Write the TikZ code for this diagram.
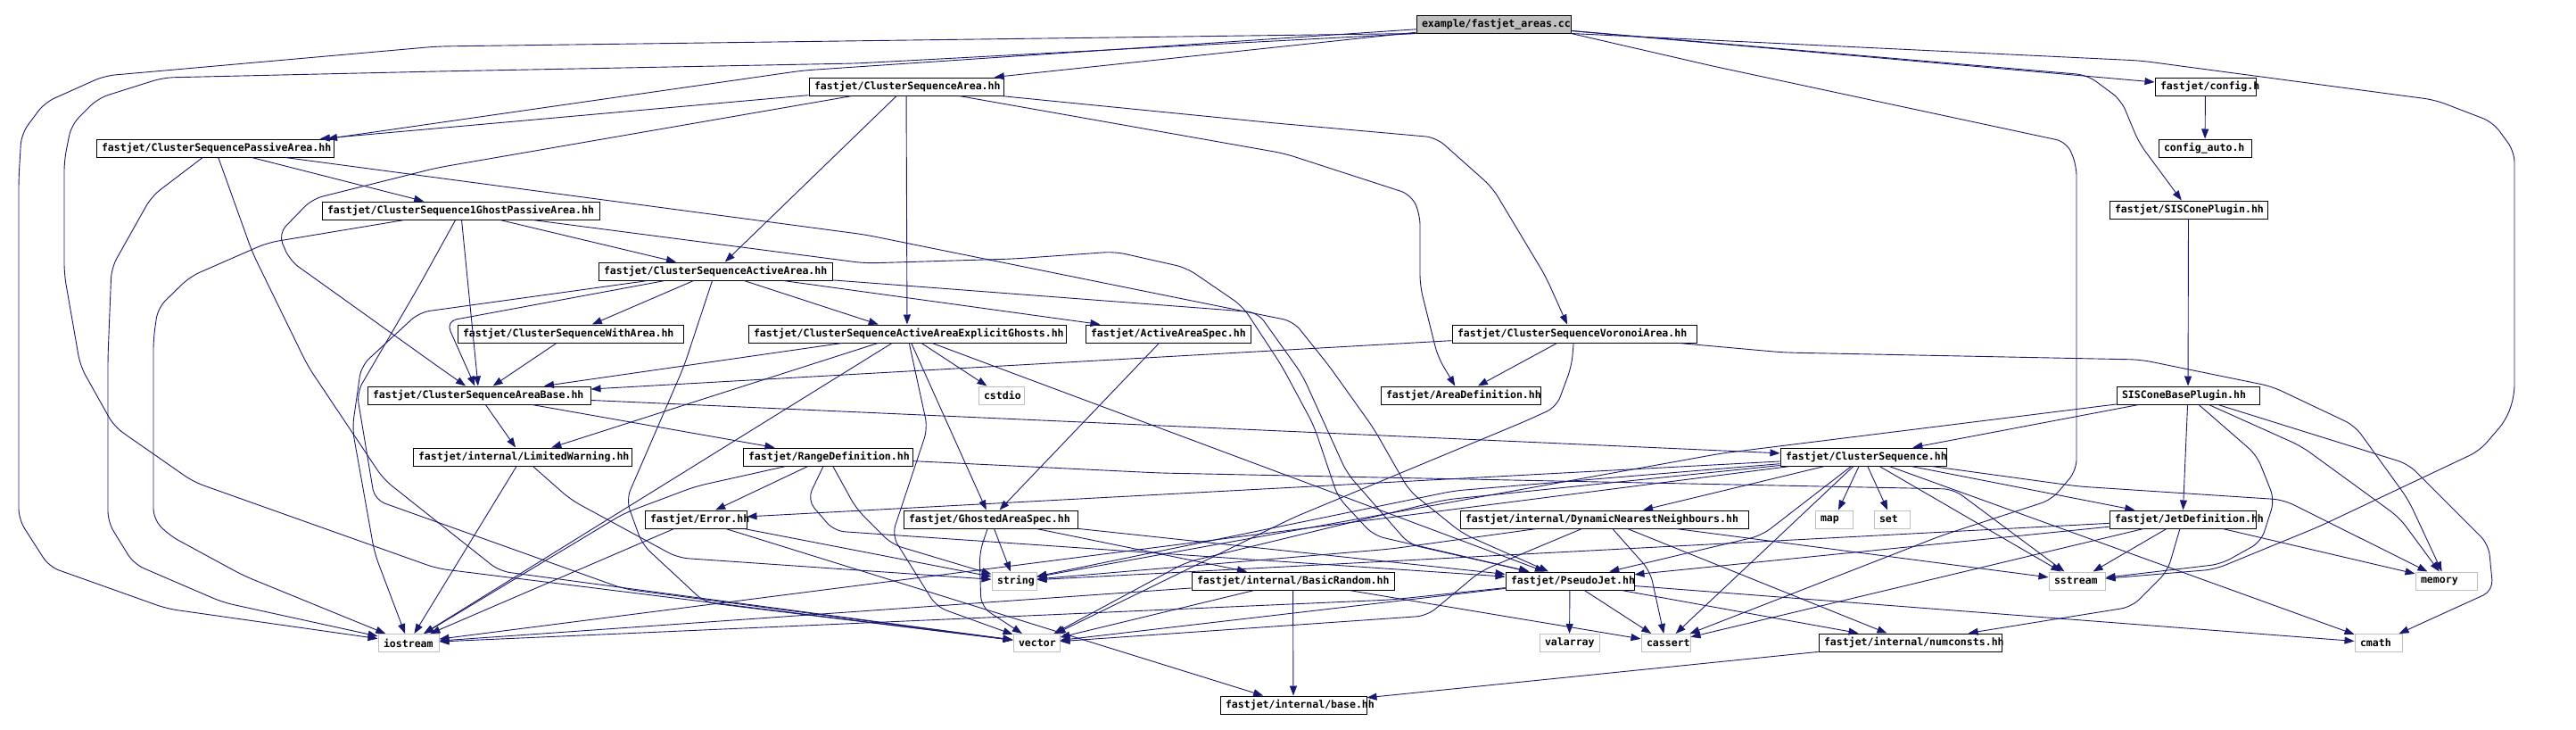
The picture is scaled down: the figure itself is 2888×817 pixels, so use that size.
\documentclass[tikz,border=0pt]{standalone}
\usepackage{fontspec}
\setmonofont{DejaVu Sans Mono}
\usetikzlibrary{arrows.meta}
\definecolor{edgec}{HTML}{191970}
\definecolor{graybox}{HTML}{BFBFBF}
\newcommand\lbl[2]{\makebox[#1pt][l]{\hspace{6pt}#2}}
\tikzset{
 n/.style={draw=black, line width=1pt, minimum height=20pt, inner sep=0pt, anchor=center,
   font=\ttfamily\bfseries\fontsize{11.55pt}{13pt}\selectfont},
 g/.style={n, draw=graybox},
 e/.style={draw=edgec, line width=0.9pt, rounded corners=12pt, -{Triangle[length=11pt,width=8pt]}}
}
\begin{document}
\begin{tikzpicture}[x=1pt,y=-1pt]
\useasboundingbox (0,0) rectangle (2888,817);
% nodes
\node[n,fill=graybox] (root) at (1674.5,27) {\lbl{173}{example/fastjet\_areas.cc}};
\node[n] (CSA) at (1016,97) {\lbl{218}{fastjet/ClusterSequenceArea.hh}};
\node[n] (cfg) at (2472.5,97) {\lbl{113}{fastjet/config.h}};
\node[n] (CSPA) at (241,166) {\lbl{266}{fastjet/ClusterSequencePassiveArea.hh}};
\node[n] (cfga) at (2472,166) {\lbl{104}{config\_auto.h}};
\node[n] (CS1G) at (516.5,236) {\lbl{311}{fastjet/ClusterSequence1GhostPassiveArea.hh}};
\node[n] (SISP) at (2453.5,235) {\lbl{177}{fastjet/SISConePlugin.hh}};
\node[n] (CSAA) at (802,304) {\lbl{262}{fastjet/ClusterSequenceActiveArea.hh}};
\node[n] (CSWA) at (639.5,374) {\lbl{253}{fastjet/ClusterSequenceWithArea.hh}};
\node[n] (CSAAEG) at (1017,374) {\lbl{356}{fastjet/ClusterSequenceActiveAreaExplicitGhosts.hh}};
\node[n] (AAS) at (1309.5,374) {\lbl{185}{fastjet/ActiveAreaSpec.hh}};
\node[n] (CSVA) at (1765,374) {\lbl{274}{fastjet/ClusterSequenceVoronoiArea.hh}};
\node[n] (CSAB) at (537,443) {\lbl{250}{fastjet/ClusterSequenceAreaBase.hh}};
\node[g] (cstdio) at (1122.5,443) {\lbl{51}{cstdio}};
\node[n] (AD) at (1637.5,443) {\lbl{179}{fastjet/AreaDefinition.hh}};
\node[n] (SISB) at (2453,443) {\lbl{160}{SISConeBasePlugin.hh}};
\node[n] (LW) at (585.5,512) {\lbl{245}{fastjet/internal/LimitedWarning.hh}};
\node[n] (RD) at (928,512) {\lbl{190}{fastjet/RangeDefinition.hh}};
\node[n] (CS) at (2089,512) {\lbl{186}{fastjet/ClusterSequence.hh}};
\node[n] (Err) at (780,582) {\lbl{114}{fastjet/Error.hh}};
\node[n] (GAS) at (1110.5,582) {\lbl{195}{fastjet/GhostedAreaSpec.hh}};
\node[n] (DNN) at (1798.5,582) {\lbl{323}{fastjet/internal/DynamicNearestNeighbours.hh}};
\node[g] (map) at (2056,582) {\lbl{42}{map}};
\node[g] (set) at (2121,582) {\lbl{40}{set}};
\node[n] (JD) at (2447,582) {\lbl{164}{fastjet/JetDefinition.hh}};
\node[g] (string) at (1137,651) {\lbl{50}{string}};
\node[n] (BR) at (1449.5,651) {\lbl{227}{fastjet/internal/BasicRandom.hh}};
\node[n] (PJ) at (1760,651) {\lbl{144}{fastjet/PseudoJet.hh}};
\node[g] (sstream) at (2328.5,651) {\lbl{63}{sstream}};
\node[g] (memory) at (2742.5,651) {\lbl{69}{memory}};
\node[g] (iostream) at (458,720.5) {\lbl{68}{iostream}};
\node[g] (vector) at (1162,720.5) {\lbl{52}{vector}};
\node[g] (valarray) at (1759.5,720.5) {\lbl{67}{valarray}};
\node[g] (cassert) at (1867.5,720.5) {\lbl{55}{cassert}};
\node[n] (numconsts) at (2141.5,720) {\lbl{205}{fastjet/internal/numconsts.hh}};
\node[g] (cmath) at (2666.5,720.5) {\lbl{53}{cmath}};
\node[n] (base) at (1450,790) {\lbl{164}{fastjet/internal/base.hh}};
% root edges
\draw[e] (root) -- (CSA);
\draw[e] (root) -- (900,79) -- ([xshift=126pt]CSPA.north);
\draw[e] (root) -- (cfg);
\draw[e] (root) -- (2340,84) -- (2378,112) -- (2398,160) -- (SISP);
\draw[e] (root.south west) -- (490,52) -- (117,85) -- (50,115) -- (24,150) -- (21,200) -- (21,582) -- (55,635) -- (187,682) -- (iostream);
\draw[e] (root.south west) -- (960,71) -- (490,80) -- (183,87) -- (110,110) -- (80,140) -- (72,180) -- (72,307) -- (90,410) -- (128,478) -- (217,540) -- (490,637) -- (vector);
\draw[e] (root.south east) -- (2400,68) -- (2730,112) -- (2795,137) -- (2819,170) -- (2819,443) -- (2810,470) -- (2780,505) -- (2600,590) -- (2483,638) -- (sstream);
\draw[e] (root.south east) -- (1920,74) -- (2317,159) -- (2328,185) -- (2328,527) -- (2300,560) -- (2177,600) -- (cassert);
\draw[e] (cfg) -- (cfga);
% ClusterSequenceArea
\draw[e] (CSA) -- (CSPA);
\draw[e] (CSA) -- (490,188) -- (350,223) -- (312,262) -- (325,292) -- (490,410) -- (CSAB);
\draw[e] (CSA) -- (CSAA);
\draw[e] (CSA) -- (CSAAEG);
\draw[e] (CSA) -- (1430,138) -- (1610,154) -- (1673,210) -- (1733,310) -- ([xshift=-8pt]CSVA.north);
\draw[e] (CSA) -- (1440,172) -- (1582,218) -- (1592,240) -- (1592,320) -- (1612,400) -- (AD);
% PassiveArea
\draw[e] (CSPA) -- (CS1G);
\draw[e] (CSPA) -- (970,263) -- (1450,360) -- (1490,410) -- (1540,480) -- (1580,550) -- (1640,598) -- (PJ);
\draw[e] (CSPA) -- (170,220) -- (125,300) -- (121,400) -- (121,585) -- (150,632) -- (250,675) -- (iostream);
\draw[e] (CSPA) -- (283,283) -- (345,410) -- (430,537) -- (560,640) -- (vector);
% 1GhostPassiveArea
\draw[e] (CS1G) -- (CSAB);
\draw[e] (CS1G) -- (CSAA);
\draw[e] (CS1G) -- (970,295) -- (1137,290) -- (1250,282) -- (1330,300) -- (1393,343) -- (1437,410) -- (1473,477) -- (1500,557) -- (1540,600) -- (PJ);
\draw[e] (CS1G) -- (300,272) -- (213,310) -- (177,345) -- (172,380) -- (172,582) -- (190,600) -- (273,645) -- (iostream);
\draw[e] (CS1G) -- (470,320) -- (400,440) -- (420,560) -- (700,660) -- (vector);
% ActiveArea
\draw[e] (CSAA) -- (CSWA);
\draw[e] (CSAA) -- (CSAAEG);
\draw[e] (CSAA) -- (AAS);
\draw[e] (CSAA) -- (500,360) -- (CSAB);
\draw[e] (CSAA) -- (1410,350) -- (1460,420) -- (1510,530) -- (1580,610) -- (PJ);
\draw[e] (CSAA) -- (470,350) -- (405,410) -- (395,480) -- (420,620) -- (iostream);
\draw[e] (CSAA) -- (767,410) -- (702,560) -- (720,610) -- (790,675) -- (970,697) -- (vector);
\draw[e] (CSWA) -- (CSAB);
% ExplicitGhosts
\draw[e] (CSAAEG) -- (CSAB);
\draw[e] (CSAAEG) -- (cstdio);
\draw[e] (CSAAEG) -- (GAS);
\draw[e] (CSAAEG) -- (LW);
\draw[e] (CSAAEG) -- (PJ);
\draw[e] (CSAAEG) -- (iostream);
\draw[e] (CSAAEG) -- (1040,480) -- (1000,600) -- (1050,680) -- (vector);
\draw[e] (AAS) -- (GAS);
% VoronoiArea
\draw[e] (CSVA) -- (CSAB);
\draw[e] (CSVA) -- (AD);
\draw[e] (CSVA) -- (1762,410) -- (1745,456) -- (1710,472) -- (1450,580) -- (vector);
\draw[e] (CSVA) -- (2000,395) -- (2400,403) -- (2547,433) -- (2640,477) -- (2700,560) -- (memory);
% AreaBase
\draw[e] (CSAB) -- (LW);
\draw[e] (CSAB) -- (RD);
\draw[e] (CSAB) -- (CS);
% LimitedWarning
\draw[e] (LW) -- (iostream);
\draw[e] (LW) -- (640,560) -- (760,625) -- (string);
% RangeDefinition
\draw[e] (RD) -- (Err);
\draw[e] (RD) -- (780,545) -- (700,575) -- (iostream);
\draw[e] (RD) -- (905,560) -- (935,595) -- (1300,620) -- (PJ);
\draw[e] (RD) -- (960,570) -- (1000,610) -- (string);
\draw[e] (RD) -- (1300,530) -- (2190,548) -- (sstream);
% Error
\draw[e] (Err) -- (string);
\draw[e] (Err) -- (base);
\draw[e] (Err) -- (iostream);
% GhostedAreaSpec
\draw[e] (GAS) -- (string);
\draw[e] (GAS) -- (1098,620) -- (1100,680) -- (vector);
\draw[e] (GAS) -- (BR);
\draw[e] (GAS) -- (PJ);
% BasicRandom
\draw[e] (BR) -- (base);
\draw[e] (BR) -- (iostream);
\draw[e] (BR) -- (vector);
\draw[e] (BR) -- (cassert);
% PseudoJet
\draw[e] (PJ) -- (valarray);
\draw[e] (PJ) -- (cassert);
\draw[e] (PJ) -- (vector);
\draw[e] (PJ) -- (1560,672) -- (iostream);
\draw[e] (PJ) -- (numconsts);
\draw[e] (PJ) -- (cmath);
% ClusterSequence
\draw[e] (CS) -- (map);
\draw[e] (CS) -- (set);
\draw[e] (CS) -- (DNN);
\draw[e] (CS) -- (JD);
\draw[e] (CS) -- (1975,600) -- (PJ);
\draw[e] (CS) -- (1620,560) -- (1330,630) -- (vector);
\draw[e] (CS) -- (2330,545) -- (2560,560) -- (memory);
\draw[e] (CS) -- (cassert);
\draw[e] (CS) -- (iostream);
\draw[e] (CS) -- (1630,550) -- (string);
\draw[e] (CS) -- (cmath);
\draw[e] (CS) -- (Err);
\draw[e] (CS) -- (sstream);
% DynamicNearestNeighbours
\draw[e] (DNN) -- (numconsts);
\draw[e] (DNN) -- (1660,640) -- (1600,690) -- (vector);
\draw[e] (DNN) -- (1850,640) -- (cassert);
\draw[e] (DNN) -- (1560,615) -- (string);
\draw[e] (DNN) -- (sstream);
% JetDefinition
\draw[e] (JD) -- (PJ);
\draw[e] (JD) -- (memory);
\draw[e] (JD) -- (2430,640) -- (2390,680) -- (numconsts);
\draw[e] (JD) -- (cassert);
\draw[e] (JD) -- (string);
\draw[e] (JD) -- (sstream);
% SISCone
\draw[e] (SISP) -- (SISB);
\draw[e] (SISB) -- (CS);
\draw[e] (SISB) -- (JD);
\draw[e] (SISB) -- (2580,500) -- (2690,580) -- (memory);
\draw[e] (SISB) -- (2700,520) -- (2790,610) -- (2795,662) -- (cmath);
\draw[e] (SISB) -- (2530,510) -- (2550,560) -- (2535,607) -- (2490,632) -- (sstream);
\draw[e] (SISB) -- (1930,508) -- (string);
% numconsts
\draw[e] (numconsts) -- (base);
\end{tikzpicture}
\end{document}
